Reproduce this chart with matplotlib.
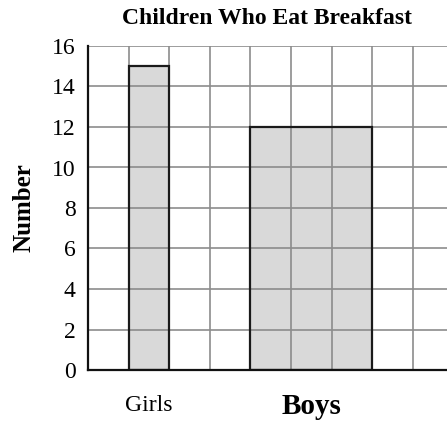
import matplotlib
matplotlib.use("Agg")
import matplotlib.pyplot as plt

# bar data: group name, left grid column, width in grid columns, count
groups = ["Girls", "Boys"]
lefts = [1, 4]
widths = [1, 3]
counts = [15, 12]
yticks = [0, 2, 4, 6, 8, 10, 12, 14, 16]

plt.rcParams["font.family"] = ["Liberation Serif", "DejaVu Serif"]

fig = plt.figure(figsize=(4.47, 4.23), dpi=100)
ax = fig.add_axes([88 / 447, 53 / 423, 359 / 447, 324 / 423])

# gray fill under the grid, black outline above it
ax.bar(lefts, counts, width=widths, align="edge", color="#d9d9d9", lw=0, zorder=1)
ax.bar(lefts, counts, width=widths, align="edge", fill=False, edgecolor="#1a1a1a",
       lw=1.6, zorder=3)

ax.set_xlim(0, 359 / 40.6)
ax.set_ylim(0, 16)
ax.set_yticks(yticks)
ax.set_yticklabels([str(t) for t in yticks], fontsize=17)
ax.set_xticks(range(1, 9), minor=False)
ax.set_xticklabels([])
ax.tick_params(length=0, pad=9)
ax.set_axisbelow(False)
ax.grid(True, color="#8c8c8c", lw=1.2)

for s in ("top", "right"):
    ax.spines[s].set_visible(False)
for s in ("left", "bottom"):
    ax.spines[s].set_color("#111111")
    ax.spines[s].set_linewidth(1.6)
    ax.spines[s].set_zorder(4)

# category names under each bar
ax.text(lefts[0] + widths[0] / 2, -1.75, groups[0], ha="center", va="center",
        fontsize=17)
ax.text(lefts[1] + widths[1] / 2, -1.8, groups[1], ha="center", va="center",
        fontsize=21, fontweight="bold")

ax.set_ylabel("Number", fontsize=18, fontweight="bold", labelpad=12)
fig.text(267 / 447, 1 - 18 / 423, "Children Who Eat Breakfast", ha="center",
         va="center", fontsize=17, fontweight="bold")

fig.savefig("out.png", dpi=100)
